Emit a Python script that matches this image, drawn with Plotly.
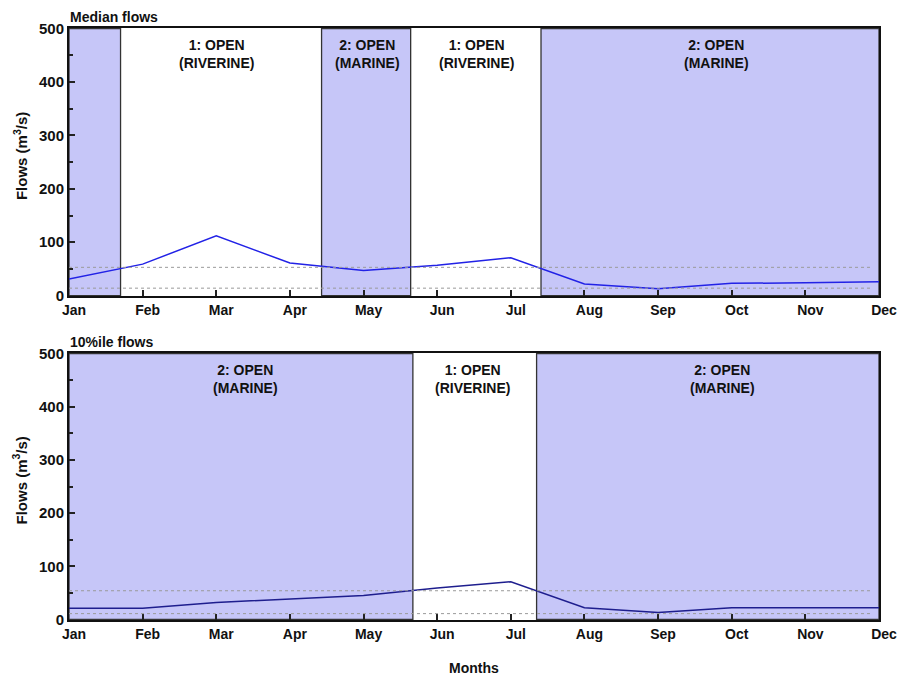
import plotly.graph_objects as go

months = ["Jan", "Feb", "Mar", "Apr", "May", "Jun", "Jul", "Aug", "Sep", "Oct", "Nov", "Dec"]
month_idx = list(range(12))

median_flows = [31, 59, 112, 61, 47, 57, 71, 22, 13, 23, 24, 26]
p10_flows = [21, 21, 32, 38, 45, 59, 71, 22, 13, 22, 22, 22]

# thresholds (dotted reference lines)
median_thresholds = [53, 14]
p10_thresholds = [54, 11]
threshold_span = [0, 10.9]

# state periods (in month units) : (start, end, label, shaded)
median_periods = [
    (0.0, 0.70, "", True),
    (0.70, 3.43, "1: OPEN<br>(RIVERINE)", False),
    (3.43, 4.64, "2: OPEN<br>(MARINE)", True),
    (4.64, 6.41, "1: OPEN<br>(RIVERINE)", False),
    (6.41, 11.0, "2: OPEN<br>(MARINE)", True),
]
median_label_x = [None, 2.0, 4.06, 5.53, 8.79]

p10_periods = [
    (0.0, 4.67, "2: OPEN<br>(MARINE)", True),
    (4.67, 6.35, "1: OPEN<br>(RIVERINE)", False),
    (6.35, 11.0, "2: OPEN<br>(MARINE)", True),
]
p10_label_x = [2.40, 5.48, 8.87]

FONT = "Liberation Sans, Arial, sans-serif"
SHADE = "#c6c6f8"
EDGE = "#333333"

fig = go.Figure()

fig.add_trace(go.Scatter(x=month_idx, y=median_flows, mode="lines",
                         line=dict(color="#2222e6", width=1.5),
                         xaxis="x", yaxis="y", showlegend=False))
fig.add_trace(go.Scatter(x=month_idx, y=p10_flows, mode="lines",
                         line=dict(color="#1e1e8e", width=1.5),
                         xaxis="x2", yaxis="y2", showlegend=False))

shapes = []
annotations = []

def add_panel(periods, label_xs, thresholds, xr, yr):
    for (x0, x1, lab, shaded), lx in zip(periods, label_xs):
        if shaded:
            shapes.append(dict(type="rect", xref=xr, yref=yr, x0=x0, x1=x1, y0=0, y1=500,
                               fillcolor=SHADE, line=dict(color=EDGE, width=1.3), layer="below"))
        if lab:
            annotations.append(dict(x=lx, y=500, xref=xr, yref=yr, text="<b>" + lab + "</b>",
                                    showarrow=False, yanchor="top", yshift=-6,
                                    font=dict(family=FONT, size=14, color="#111")))
    for t in thresholds:
        shapes.append(dict(type="line", xref=xr, yref=yr, x0=threshold_span[0], x1=threshold_span[1],
                           y0=t, y1=t, line=dict(color="#9a9a9a", width=1, dash="dot"), layer="above"))

add_panel(median_periods, median_label_x, median_thresholds, "x", "y")
add_panel(p10_periods, p10_label_x, p10_thresholds, "x2", "y2")

TOP_DOM = [0.547, 1]
BOT_DOM = [0, 0.451]

# panel titles
annotations.append(dict(x=0, y=1, xref="paper", yref="paper", text="<b>Median flows</b>",
                        showarrow=False, xanchor="left", yanchor="bottom", yshift=1, xshift=-1,
                        font=dict(family=FONT, size=14, color="#111")))
annotations.append(dict(x=0, y=BOT_DOM[1], xref="paper", yref="paper", text="<b>10%ile flows</b>",
                        showarrow=False, xanchor="left", yanchor="bottom", yshift=1, xshift=-1,
                        font=dict(family=FONT, size=14, color="#111")))
# y titles
for yc in [(TOP_DOM[0] + TOP_DOM[1]) / 2, (BOT_DOM[0] + BOT_DOM[1]) / 2]:
    annotations.append(dict(x=0, y=yc, xref="paper", yref="paper", text="<b>Flows (m<sup>3</sup>/s)</b>",
                            showarrow=False, textangle=-90, xanchor="center", yanchor="middle",
                            xshift=-49, yshift=6,
                            font=dict(family=FONT, size=15, color="#111")))
annotations.append(dict(x=0.5, y=0, xref="paper", yref="paper", text="<b>Months</b>",
                        showarrow=False, yanchor="top", yshift=-38,
                        font=dict(family=FONT, size=14, color="#111")))

xaxis_common = dict(range=[0, 11], tickvals=month_idx, ticktext=["<b>%s</b>" % m for m in months],
                    ticks="inside", ticklen=6, tickwidth=1.5, tickcolor="#222",
                    showline=True, linewidth=2, linecolor="#111", mirror=True,
                    showgrid=False, zeroline=False, ticklabelshift=5, automargin=False,
                    tickfont=dict(family=FONT, size=14, color="#111"))
yaxis_common = dict(range=[-1, 501], tickvals=[0, 100, 200, 300, 400, 500],
                    ticktext=["<b>%d</b>" % v for v in [0, 100, 200, 300, 400, 500]],
                    ticks="inside", ticklen=6, tickwidth=1.5, tickcolor="#222",
                    minor=dict(dtick=50, ticks="inside", ticklen=4, tickcolor="#222", showgrid=False),
                    showline=True, linewidth=2, linecolor="#111", mirror=True,
                    showgrid=False, zeroline=False, automargin=False,
                    tickfont=dict(family=FONT, size=15, color="#111"))

fig.update_layout(
    width=900, height=677,
    margin=dict(l=69, r=21, t=28, b=57),
    plot_bgcolor="white", paper_bgcolor="white",
    xaxis=dict(**xaxis_common, anchor="y", domain=[0, 1]),
    yaxis=dict(**yaxis_common, anchor="x", domain=TOP_DOM),
    xaxis2=dict(**xaxis_common, anchor="y2", domain=[0, 1]),
    yaxis2=dict(**yaxis_common, anchor="x2", domain=BOT_DOM),
    shapes=shapes, annotations=annotations,
    showlegend=False,
)

fig.write_html("out.html", config={"displayModeBar": False},
               post_script="document.body.style.margin='0';document.body.style.overflow='hidden';")
